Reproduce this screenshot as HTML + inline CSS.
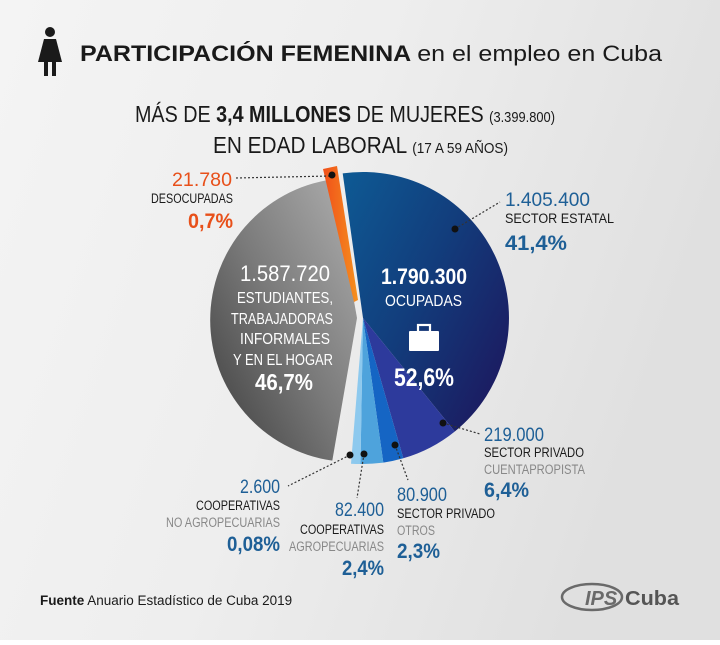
<!DOCTYPE html>
<html><head><meta charset="utf-8"><style>
html,body{margin:0;padding:0;}
body{width:720px;height:640px;overflow:hidden;}
svg text{font-family:"Liberation Sans",sans-serif;}
</style></head><body>
<svg width="720" height="640" viewBox="0 0 720 640" xmlns="http://www.w3.org/2000/svg">
<defs>
<linearGradient id="bg" x1="0" y1="0" x2="1" y2="0.3"><stop offset="0" stop-color="#f4f4f4"/><stop offset="0.5" stop-color="#eeeeee"/><stop offset="1" stop-color="#e0e0e0"/></linearGradient>
<linearGradient id="blue" x1="0" y1="0" x2="1" y2="0.8"><stop offset="0" stop-color="#0e5a94"/><stop offset="0.5" stop-color="#123d7c"/><stop offset="1" stop-color="#1c1a60"/></linearGradient>
<linearGradient id="grey" x1="1" y1="0" x2="0" y2="1"><stop offset="0" stop-color="#b0b0b0"/><stop offset="0.5" stop-color="#7a7a7a"/><stop offset="1" stop-color="#3a3a3a"/></linearGradient>
<linearGradient id="orange" x1="0" y1="0" x2="1" y2="0"><stop offset="0" stop-color="#f0501a"/><stop offset="1" stop-color="#f5901e"/></linearGradient>
</defs>
<rect width="720" height="640" fill="url(#bg)"/>
<g fill="#1a1a1a">
<circle cx="50" cy="32" r="5"/>
<path d="M44 39 L56 39 L62 62 L38 62 Z"/>
<rect x="44" y="61" width="4" height="15"/><rect x="52" y="61" width="4" height="15"/>
</g>
<text x="80" y="61" font-size="22" font-weight="bold" fill="#1a1a1a" textLength="582" lengthAdjust="spacingAndGlyphs">PARTICIPACIÓN FEMENINA <tspan font-weight="normal">en el empleo en Cuba</tspan></text>
<text x="135" y="122" font-size="23" fill="#1a1a1a" textLength="420" lengthAdjust="spacingAndGlyphs">MÁS DE <tspan font-weight="bold">3,4 MILLONES</tspan> DE MUJERES <tspan font-size="15">(3.399.800)</tspan></text>
<text x="213" y="153" font-size="23" fill="#1a1a1a" textLength="295" lengthAdjust="spacingAndGlyphs">EN EDAD LABORAL <tspan font-size="15">(17 A 59 AÑOS)</tspan></text>

<path d="M363 318 L342.7 173.4 A146 146 0 0 1 454.8 431.5 Z" fill="url(#blue)"/>
<path d="M363 318 L454.8 431.5 A146 146 0 0 1 403.3 458.3 Z" fill="#2d3a9c"/>
<path d="M363 318 L403.3 458.3 A146 146 0 0 1 383.3 462.6 Z" fill="#1565c4"/>
<path d="M363 318 L383.3 462.6 A146 146 0 0 1 360.5 464 Z" fill="#4ea3dc"/>
<path d="M363 318 L360.5 464 A146 146 0 0 1 351 463.7 Z" fill="#8dc9ee"/>
<path d="M357 318 L332.3 179.4 A142 142 0 0 0 332.3 460.6 Z" fill="url(#grey)"/>
<path d="M323 169 L337 166 L358 300 L354 302 Z" fill="url(#orange)"/>

<g stroke="#333" stroke-width="1.2" stroke-dasharray="2,2" fill="none">
<line x1="236" y1="178" x2="331" y2="176"/>
<line x1="455" y1="229" x2="500" y2="202"/>
<line x1="443" y1="423" x2="480" y2="434"/>
<line x1="395" y1="445" x2="408" y2="480"/>
<line x1="364" y1="454" x2="357" y2="498"/>
<line x1="350" y1="455" x2="288" y2="486"/>
</g>
<g fill="#111">
<circle cx="332" cy="175" r="3.5"/><circle cx="455" cy="229" r="3.5"/><circle cx="443" cy="423" r="3.5"/>
<circle cx="395" cy="445" r="3.5"/><circle cx="364" cy="454" r="3.5"/><circle cx="350" cy="455" r="3.5"/>
</g>

<g fill="#fff" lengthAdjust="spacingAndGlyphs">
<text x="240" y="281" font-size="22" textLength="90" lengthAdjust="spacingAndGlyphs">1.587.720</text>
<text x="237" y="303" font-size="16" textLength="96" lengthAdjust="spacingAndGlyphs">ESTUDIANTES,</text>
<text x="231" y="324" font-size="16" textLength="102" lengthAdjust="spacingAndGlyphs">TRABAJADORAS</text>
<text x="240" y="344" font-size="16" textLength="90" lengthAdjust="spacingAndGlyphs">INFORMALES</text>
<text x="233" y="365" font-size="16" textLength="100" lengthAdjust="spacingAndGlyphs">Y EN EL HOGAR</text>
<text x="255" y="390" font-size="23" font-weight="bold" textLength="58" lengthAdjust="spacingAndGlyphs">46,7%</text>
<text x="381" y="284" font-size="22" font-weight="bold" textLength="86" lengthAdjust="spacingAndGlyphs">1.790.300</text>
<text x="385" y="306" font-size="16" textLength="77" lengthAdjust="spacingAndGlyphs">OCUPADAS</text>
<text x="394" y="386" font-size="25" font-weight="bold" textLength="60" lengthAdjust="spacingAndGlyphs">52,6%</text>
</g>
<g fill="#fff"><rect x="409" y="331" width="30" height="20" rx="1"/><rect x="418" y="325" width="12" height="7" fill="none" stroke="#fff" stroke-width="2.2"/></g>

<g lengthAdjust="spacingAndGlyphs">
<text x="172" y="186" font-size="19" fill="#e8501a" textLength="60" lengthAdjust="spacingAndGlyphs">21.780</text>
<text x="151" y="203" font-size="13.5" fill="#1a1a1a" textLength="82" lengthAdjust="spacingAndGlyphs">DESOCUPADAS</text>
<text x="188" y="228" font-size="21" font-weight="bold" fill="#e8501a" textLength="45" lengthAdjust="spacingAndGlyphs">0,7%</text>
<text x="240" y="493" font-size="19" fill="#1e5f96" textLength="40" lengthAdjust="spacingAndGlyphs">2.600</text>
<text x="196" y="510" font-size="13.5" fill="#1a1a1a" textLength="84" lengthAdjust="spacingAndGlyphs">COOPERATIVAS</text>
<text x="166" y="527" font-size="13.5" fill="#888" textLength="114" lengthAdjust="spacingAndGlyphs">NO AGROPECUARIAS</text>
<text x="227" y="551" font-size="21" font-weight="bold" fill="#1e5f96" textLength="53" lengthAdjust="spacingAndGlyphs">0,08%</text>
<text x="335" y="516" font-size="19" fill="#1e5f96" textLength="49" lengthAdjust="spacingAndGlyphs">82.400</text>
<text x="300" y="534" font-size="13.5" fill="#1a1a1a" textLength="84" lengthAdjust="spacingAndGlyphs">COOPERATIVAS</text>
<text x="289" y="551" font-size="13.5" fill="#888" textLength="95" lengthAdjust="spacingAndGlyphs">AGROPECUARIAS</text>
<text x="342" y="575" font-size="21" font-weight="bold" fill="#1e5f96" textLength="42" lengthAdjust="spacingAndGlyphs">2,4%</text>
<text x="505" y="206" font-size="19" fill="#1e5f96" textLength="85" lengthAdjust="spacingAndGlyphs">1.405.400</text>
<text x="505" y="223" font-size="13.5" fill="#1a1a1a" textLength="109" lengthAdjust="spacingAndGlyphs">SECTOR ESTATAL</text>
<text x="505" y="250" font-size="21" font-weight="bold" fill="#1e5f96" textLength="62" lengthAdjust="spacingAndGlyphs">41,4%</text>
<text x="484" y="441" font-size="19" fill="#1e5f96" textLength="60" lengthAdjust="spacingAndGlyphs">219.000</text>
<text x="484" y="457" font-size="13.5" fill="#1a1a1a" textLength="100" lengthAdjust="spacingAndGlyphs">SECTOR PRIVADO</text>
<text x="484" y="474" font-size="13.5" fill="#888" textLength="101" lengthAdjust="spacingAndGlyphs">CUENTAPROPISTA</text>
<text x="484" y="497" font-size="21" font-weight="bold" fill="#1e5f96" textLength="45" lengthAdjust="spacingAndGlyphs">6,4%</text>
<text x="397" y="501" font-size="19" fill="#1e5f96" textLength="50" lengthAdjust="spacingAndGlyphs">80.900</text>
<text x="397" y="518" font-size="13.5" fill="#1a1a1a" textLength="98" lengthAdjust="spacingAndGlyphs">SECTOR PRIVADO</text>
<text x="397" y="535" font-size="13.5" fill="#888" textLength="38" lengthAdjust="spacingAndGlyphs">OTROS</text>
<text x="397" y="558" font-size="21" font-weight="bold" fill="#1e5f96" textLength="43" lengthAdjust="spacingAndGlyphs">2,3%</text>
</g>

<text x="40" y="605" font-size="13.5" fill="#1a1a1a"><tspan font-weight="bold">Fuente</tspan> Anuario Estadístico de Cuba 2019</text>
<g fill="#6a6a6a">
<ellipse cx="592" cy="597" rx="30" ry="13" fill="none" stroke="#6a6a6a" stroke-width="2.5"/>
<text x="585" y="605" font-size="20" font-weight="bold" font-style="italic">IPS</text>
<text x="625" y="605" font-size="20" font-weight="bold" fill="#555" textLength="54" lengthAdjust="spacingAndGlyphs">Cuba</text>
</g>
</svg>
</body></html>
